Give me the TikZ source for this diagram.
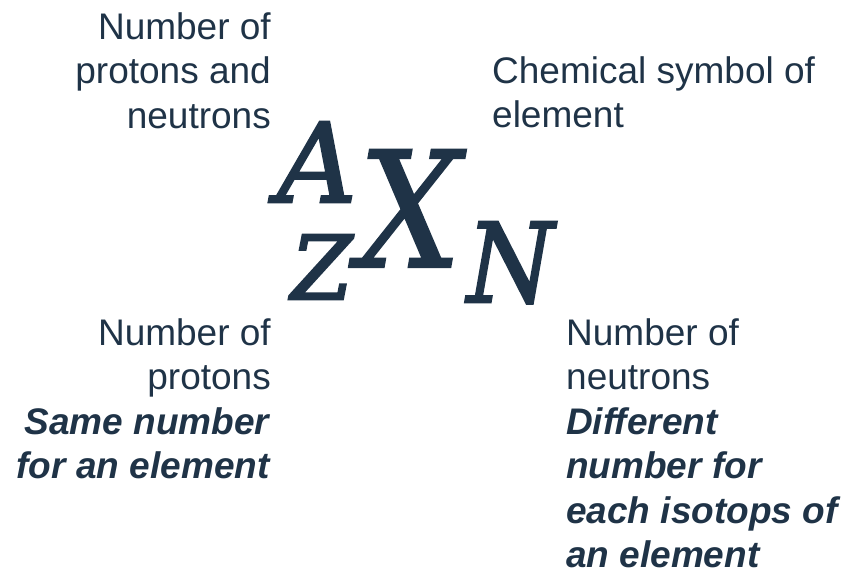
\documentclass[tikz,border=0pt]{standalone}
\usepackage{fontspec}
\setmainfont{Liberation Sans}
\newfontfamily\symfont{DejaVu Serif}
\definecolor{ink}{HTML}{1F3347}
\newcommand{\heavy}[2]{\special{pdf:literal 2 Tr #1 w}#2\special{pdf:literal 0 Tr}}
\begin{document}
\begin{tikzpicture}[x=1pt,y=-1pt,
  lbl/.style={inner sep=0pt,text=ink,font=\fontsize{37}{44.5}\selectfont},
  sym/.style={inner sep=0pt,text=ink,anchor=base west}]
\useasboundingbox (0,0) rectangle (848,573);
\node[lbl,align=right,anchor=north east] (mass) at (271,12) {Number of\\protons and\\neutrons};
\node[lbl,align=left,anchor=north west] (chem) at (492,56) {Chemical symbol of\\element};
\node[lbl,align=right,anchor=north east] (prot) at (271,318) {Number of\\protons\\\textbf{\textit{Same number}}\\\textbf{\textit{for an element}}};
\node[lbl,align=left,anchor=north west] (neut) at (566,318) {Number of\\neutrons\\\textbf{\textit{Different}}\\\textbf{\textit{number for}}\\\textbf{\textit{each isotops of}}\\\textbf{\textit{an element}}};
\node[sym,font=\symfont\itshape\fontsize{110}{110}\selectfont] (A) at (277,202) {\heavy{2.5}{A}};
\node[sym,font=\symfont\itshape\fontsize{161}{161}\selectfont] (X) at (358,267) {\scalebox{0.9}[1]{\heavy{2}{X}}};
\node[sym,font=\symfont\itshape\fontsize{88}{88}\selectfont] (Z) at (291,299) {\heavy{2.5}{Z}};
\node[sym,font=\symfont\itshape\fontsize{110}{110}\selectfont] (N) at (467,302) {\scalebox{0.9}[1]{\heavy{2.5}{N}}};
\end{tikzpicture}
\end{document}
